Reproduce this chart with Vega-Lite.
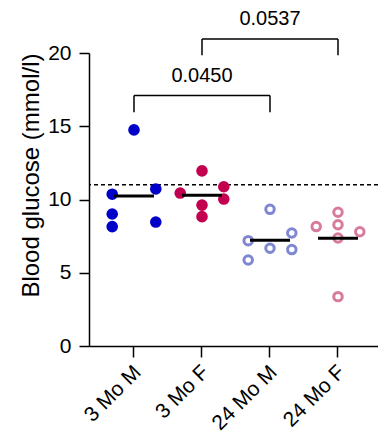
{
  "$schema": "https://vega.github.io/schema/vega-lite/v6.json",
  "autosize": "none",
  "width": 289,
  "height": 293,
  "padding": {"left": 89, "top": 53, "right": 0, "bottom": 92},
  "config": {
    "view": {"stroke": null},
    "font": "Liberation Sans",
    "axis": {"labelFont": "Liberation Sans", "titleFont": "Liberation Sans", "labelColor": "#000", "titleColor": "#000", "domainColor": "#000", "tickColor": "#000", "domainWidth": 1.5, "tickWidth": 1.5, "grid": false}
  },
  "datasets": {
    "pts": [
      {"group": "3 Mo M", "col": "C", "glucose": 14.75},
      {"group": "3 Mo M", "col": "L", "glucose": 10.36},
      {"group": "3 Mo M", "col": "R", "glucose": 10.72},
      {"group": "3 Mo M", "col": "L", "glucose": 9.01},
      {"group": "3 Mo M", "col": "L", "glucose": 8.15},
      {"group": "3 Mo M", "col": "R", "glucose": 8.46},
      {"group": "3 Mo F", "col": "C", "glucose": 11.95},
      {"group": "3 Mo F", "col": "L", "glucose": 10.44},
      {"group": "3 Mo F", "col": "R", "glucose": 10.87},
      {"group": "3 Mo F", "col": "R", "glucose": 10.03},
      {"group": "3 Mo F", "col": "C", "glucose": 9.62},
      {"group": "3 Mo F", "col": "C", "glucose": 8.83},
      {"group": "24 Mo M", "col": "C", "glucose": 9.33},
      {"group": "24 Mo M", "col": "L", "glucose": 7.19},
      {"group": "24 Mo M", "col": "R", "glucose": 7.71},
      {"group": "24 Mo M", "col": "C", "glucose": 6.67},
      {"group": "24 Mo M", "col": "R", "glucose": 6.58},
      {"group": "24 Mo M", "col": "L", "glucose": 5.87},
      {"group": "24 Mo F", "col": "C", "glucose": 9.13},
      {"group": "24 Mo F", "col": "L", "glucose": 8.15},
      {"group": "24 Mo F", "col": "C", "glucose": 8.28},
      {"group": "24 Mo F", "col": "R", "glucose": 7.8},
      {"group": "24 Mo F", "col": "C", "glucose": 7.37},
      {"group": "24 Mo F", "col": "C", "glucose": 3.37}
    ],
    "brackets": [
      {"a": "3 Mo M", "b": "24 Mo M", "mid": "3 Mo F", "top": 17.1, "foot": 15.95, "ly": 18.02, "p": "0.0450"},
      {"a": "3 Mo F", "b": "24 Mo F", "mid": "24 Mo M", "top": 20.96, "foot": 19.85, "ly": 21.9, "p": "0.0537"}
    ]
  },
  "encoding": {
    "x": {
      "field": "group", "type": "nominal",
      "sort": ["3 Mo M", "3 Mo F", "24 Mo M", "24 Mo F"],
      "scale": {"domain": ["3 Mo M", "3 Mo F", "24 Mo M", "24 Mo F"], "paddingInner": 0, "paddingOuter": 0.125, "align": 0.647},
      "axis": {"title": null, "labelAngle": -45, "labelFontSize": 21, "tickSize": 11, "bandPosition": 0.5, "labelPadding": 4, "labelOffset": -4}
    }
  },
  "layer": [
    {
      "data": {"values": [{"ref": 11}]},
      "mark": {"type": "rule", "strokeDash": [4, 3], "strokeWidth": 1.5, "color": "#000"},
      "encoding": {"x": null, "y": {"field": "ref", "type": "quantitative"}}
    },
    {
      "data": {"name": "pts"},
      "transform": [{"filter": "indexof(datum.group, '3 Mo') === 0"}],
      "mark": {"type": "circle", "size": 135, "opacity": 1},
      "encoding": {
        "xOffset": {"field": "col", "type": "nominal", "sort": ["L", "C", "R"], "scale": {"domain": ["L", "C", "R"], "paddingInner": 0, "paddingOuter": 0.56}},
        "y": {"field": "glucose", "type": "quantitative", "scale": {"domain": [0, 20], "nice": false},
          "axis": {"title": "Blood glucose (mmol/l)", "values": [0, 5, 10, 15, 20], "labelFontSize": 21, "titleFontSize": 24, "titleFontWeight": "normal", "tickSize": 10, "labelPadding": 8, "titleAnchor": "end", "titlePadding": 4}},
        "color": {"field": "group", "type": "nominal", "legend": null,
          "scale": {"domain": ["3 Mo M", "3 Mo F", "24 Mo M", "24 Mo F"], "range": ["#0000C8", "#C2004F", "#7F87D3", "#D77A9D"]}}
      }
    },
    {
      "data": {"name": "pts"},
      "transform": [{"filter": "indexof(datum.group, '24 Mo') === 0"}],
      "mark": {"type": "point", "shape": "circle", "filled": false, "size": 72, "strokeWidth": 3, "opacity": 1},
      "encoding": {
        "xOffset": {"field": "col", "type": "nominal", "sort": ["L", "C", "R"], "scale": {"domain": ["L", "C", "R"], "paddingInner": 0, "paddingOuter": 0.56}},
        "y": {"field": "glucose", "type": "quantitative"},
        "color": {"field": "group", "type": "nominal", "legend": null}
      }
    },
    {
      "data": {"name": "pts"},
      "mark": {"type": "tick", "color": "#000", "size": 40, "thickness": 3},
      "encoding": {"y": {"aggregate": "mean", "field": "glucose", "type": "quantitative"}}
    },
    {
      "data": {"name": "brackets"},
      "mark": {"type": "rule", "color": "#000", "strokeWidth": 1.5},
      "encoding": {"x": {"field": "a", "type": "nominal"}, "x2": {"field": "b"}, "y": {"field": "top", "type": "quantitative"}}
    },
    {
      "data": {"name": "brackets"},
      "transform": [{"fold": ["a", "b"], "as": ["end", "grp"]}],
      "mark": {"type": "rule", "color": "#000", "strokeWidth": 1.5},
      "encoding": {"x": {"field": "grp", "type": "nominal"}, "y": {"field": "top", "type": "quantitative"}, "y2": {"field": "foot"}}
    },
    {
      "data": {"name": "brackets"},
      "mark": {"type": "text", "fontSize": 20, "color": "#000", "baseline": "alphabetic", "align": "center"},
      "encoding": {"x": {"field": "mid", "type": "nominal"}, "y": {"field": "ly", "type": "quantitative"}, "text": {"field": "p"}}
    }
  ]
}
